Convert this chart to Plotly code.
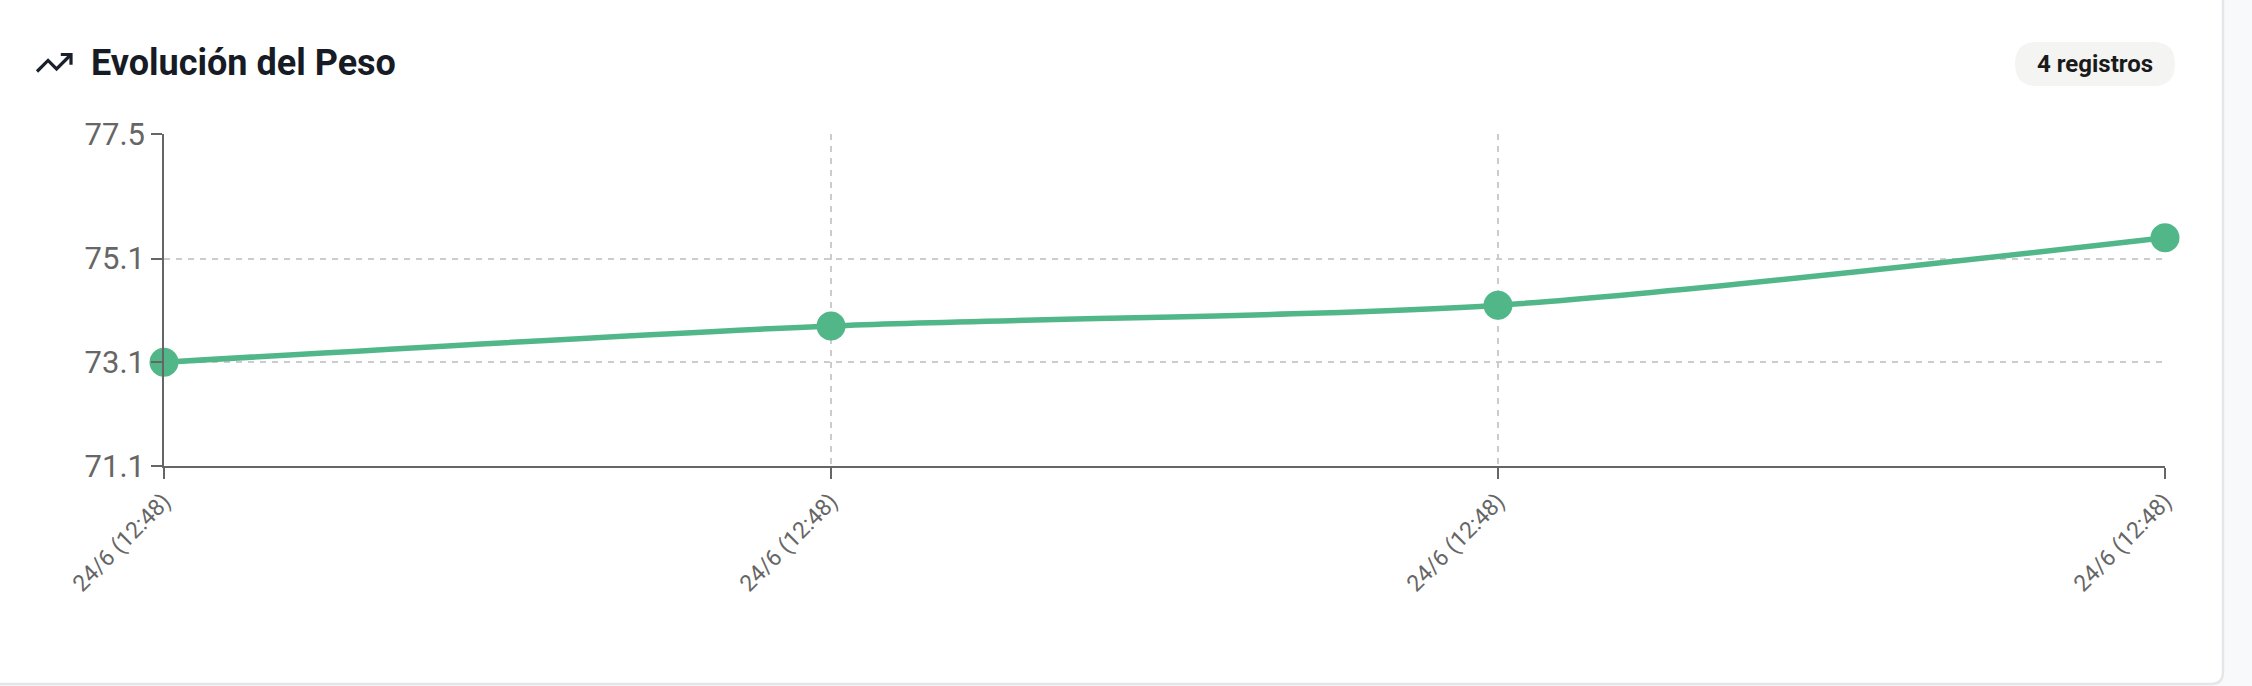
import plotly.graph_objects as go

# data
x_idx = [0, 1, 2, 3]
x_labels = ['24/6 (12:48)', '24/6 (12:48)', '24/6 (12:48)', '24/6 (12:48)']
peso = [73.1, 73.8, 74.2, 75.5]
y_ticks = [71.1, 73.1, 75.1, 77.5]
n_registros = 4

W_FIG, H_FIG = 2252, 686
L, R, T, B = 164, 2165, 134, 466
green = '#52b788'
bg = '#f8f9fb'


def px(x):
    return (x - L) / (R - L)


def py(y):
    return (B - y) / (B - T)


fig = go.Figure()
fig.add_trace(go.Scatter(
    x = x_idx,
    y = peso,
    mode = 'lines+markers',
    line = dict(color = green, width = 5.5, shape = 'spline', smoothing = 0.8),
    marker = dict(color = green, size = 29),
    cliponaxis = False,
    hoverinfo = 'skip'))

# card background with rounded bottom-right corner
cx1, cy1 = px(2223), py(684)
rx, ry = 12 / (R - L), 12 / (B - T)
card = (f'M {px(-20)},{py(-20)} L {cx1},{py(-20)} L {cx1},{cy1 + ry} '
        f'Q {cx1},{cy1} {cx1 - rx},{cy1} L {px(-20)},{cy1} Z')
shapes = [dict(type = 'path', path = card, xref = 'paper', yref = 'paper',
               fillcolor = 'white', line = dict(color = '#e4e6ea', width = 2.5),
               layer = 'below')]

# pill behind the record count
p0, p1, pt, pb = 2015, 2175, 42, 86
r = (pb - pt) / 2
pill = (f'M {px(p0 + r)},{py(pt)} L {px(p1 - r)},{py(pt)} '
        f'Q {px(p1)},{py(pt)} {px(p1)},{py(pt + r)} '
        f'Q {px(p1)},{py(pb)} {px(p1 - r)},{py(pb)} '
        f'L {px(p0 + r)},{py(pb)} '
        f'Q {px(p0)},{py(pb)} {px(p0)},{py(pt + r)} '
        f'Q {px(p0)},{py(pt)} {px(p0 + r)},{py(pt)} Z')
shapes.append(dict(type = 'path', path = pill, xref = 'paper', yref = 'paper',
                   fillcolor = '#f4f4f2', line = dict(width = 0), layer = 'below'))

# trending-up icon
s, ox, oy = 1.7, 37 - 2 * 1.7, 63 - 12 * 1.7
def ip(u, v):
    return f'{px(ox + u * s)},{py(oy + v * s)}'
icon1 = f'M {ip(22, 7)} L {ip(13.5, 15.5)} L {ip(8.5, 10.5)} L {ip(2, 17)}'
icon2 = f'M {ip(16, 7)} L {ip(22, 7)} L {ip(22, 13)}'
for pth in [icon1, icon2]:
    shapes.append(dict(type = 'path', path = pth, xref = 'paper', yref = 'paper',
                       line = dict(color = '#1a202c', width = 3.2)))

fig.update_layout(
    width = W_FIG, height = H_FIG,
    template = 'none',
    paper_bgcolor = bg,
    plot_bgcolor = 'rgba(0,0,0,0)',
    margin = dict(l = L, r = W_FIG - R, t = T, b = H_FIG - B, pad = 0),
    showlegend = False,
    font = dict(family = 'Roboto', color = '#666666'),
    shapes = shapes,
    annotations = [
        dict(text = '<b>Evolución del Peso</b>', xref = 'paper', yref = 'paper',
             x = px(89), y = py(63), xanchor = 'left', yanchor = 'middle',
             showarrow = False, font = dict(size = 36, color = '#161b26', family = 'Roboto')),
        dict(text = f'<b>{n_registros} registros</b>', xref = 'paper', yref = 'paper',
             x = px((p0 + p1) / 2), y = py(64), xanchor = 'center', yanchor = 'middle',
             showarrow = False, font = dict(size = 24, color = '#1a1a1a', family = 'Roboto')),
    ])

fig.update_xaxes(
    range = [0, 3],
    tickmode = 'array', tickvals = x_idx, ticktext = x_labels,
    tickangle = -45, tickfont = dict(size = 23, color = '#666666'),
    ticks = 'outside', ticklen = 11, tickcolor = '#666666', tickwidth = 1.5,
    showline = True, linecolor = '#666666', linewidth = 1.5,
    showgrid = True, gridcolor = '#cccccc', gridwidth = 2, griddash = '6px,6px',
    zeroline = False, automargin = False, fixedrange = True)
fig.update_yaxes(
    range = [71.1, 77.5],
    tickmode = 'array', tickvals = y_ticks, ticktext = [str(v) for v in y_ticks],
    tickfont = dict(size = 31, color = '#666666'),
    ticks = 'outside', ticklen = 11, tickcolor = '#666666', tickwidth = 1.5,
    showline = True, linecolor = '#666666', linewidth = 1.5,
    showgrid = True, gridcolor = '#cccccc', gridwidth = 2, griddash = '6px,6px',
    zeroline = False, automargin = False, fixedrange = True)

fig.write_html('out.html', config = dict(displayModeBar = False),
               post_script = "document.body.style.margin='0';"
                             "document.body.style.overflow='hidden';"
                             f"document.body.style.background='{bg}';")
